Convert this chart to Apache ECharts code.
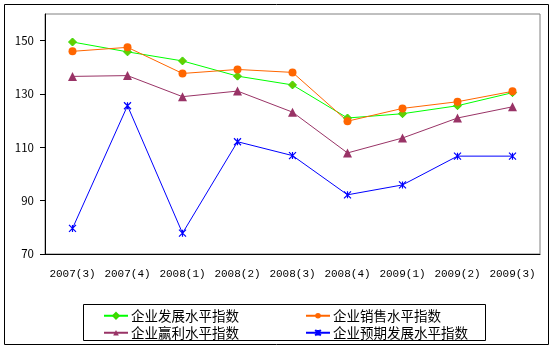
<!DOCTYPE html>
<html>
<head>
<meta charset="utf-8">
<style>
  html, body { margin: 0; padding: 0; background: #fff; }
  #chart { width: 554px; height: 350px; }
</style>
<script src="https://cdn.jsdelivr.net/npm/echarts@6/dist/echarts.min.js"></script>
</head>
<body>
<div id="chart"></div>
<script>
// Quarterly enterprise index data
const categories = ['2007(3)', '2007(4)', '2008(1)', '2008(2)', '2008(3)', '2008(4)', '2009(1)', '2009(2)', '2009(3)'];
const developIndex  = [149.5, 145.8, 142.4, 136.7, 133.4, 121.0, 122.6, 125.6, 130.5];
const salesIndex    = [146.0, 147.5, 137.7, 139.2, 138.1, 119.8, 124.6, 127.1, 131.0];
const profitIndex   = [136.6, 136.9, 129.0, 131.1, 123.2, 107.9, 113.5, 121.0, 125.2];
const expectIndex   = [79.6, 125.6, 77.8, 112.1, 106.9, 92.2, 95.9, 106.7, 106.7];
const yTickValues   = [70, 90, 110, 130, 150];

const seriesNames = ['企业发展水平指数', '企业销售水平指数', '企业赢利水平指数', '企业预期发展水平指数'];

const FONT = '"Noto Sans CJK SC", "DejaVu Sans", sans-serif';
const MONO = '"Liberation Mono", "DejaVu Sans Mono", monospace';
const asterisk = 'path://M0,0L10,10M10,0L0,10M5,0L5,10';

const chart = echarts.init(document.getElementById('chart'));

const legendCommon = {
  left: 103, padding: 0,
  itemWidth: 24, itemHeight: 7, itemGap: 66,
  textStyle: { fontSize: 13.5, color: '#000', fontFamily: FONT, padding: [0, 0, 0, -2] },
  z: 5
};

chart.setOption({
  animation: false,
  backgroundColor: '#fff',
  textStyle: { fontFamily: FONT },
  graphic: [
    { type: 'rect', shape: { x: 4.5, y: 4.5, width: 544, height: 340 },
      style: { fill: 'none', stroke: '#000', lineWidth: 1 }, z: 0, silent: true },
    { type: 'rect', shape: { x: 83.5, y: 304.5, width: 402, height: 36 },
      style: { fill: '#fff', stroke: '#000', lineWidth: 1 }, z: 1, silent: true }
  ],
  grid: {
    left: 45, top: 14, right: 14, bottom: 96,
    show: true, borderColor: '#808080', borderWidth: 1, backgroundColor: 'transparent'
  },
  legend: [
    Object.assign({ data: [seriesNames[0], seriesNames[1]], top: 309 }, legendCommon),
    Object.assign({ data: [seriesNames[2], seriesNames[3]], top: 326 }, legendCommon)
  ],
  xAxis: {
    type: 'category',
    data: categories,
    boundaryGap: true,
    axisLine: { lineStyle: { color: '#000', width: 1 } },
    axisTick: { inside: true, length: 4, lineStyle: { color: '#000' } },
    axisLabel: { color: '#000', fontSize: 11, margin: 15, fontFamily: MONO, interval: 0 },
    splitLine: { show: false }
  },
  yAxis: {
    type: 'value',
    min: 70, max: 160, interval: 10,
    axisLine: { show: true, lineStyle: { color: '#000', width: 1 } },
    axisTick: { show: true, length: 5, customValues: yTickValues, lineStyle: { color: '#000' } },
    axisLabel: { color: '#000', fontSize: 11.5, margin: 11, fontFamily: FONT, customValues: yTickValues },
    splitLine: { show: false }
  },
  series: [
    {
      name: seriesNames[0], type: 'line', data: developIndex,
      symbol: 'diamond', symbolSize: 8,
      lineStyle: { color: '#00FF00', width: 1 },
      itemStyle: { color: '#66CC00', borderColor: '#33DD00', borderWidth: 1 }
    },
    {
      name: seriesNames[1], type: 'line', data: salesIndex,
      symbol: 'circle', symbolSize: 8,
      lineStyle: { color: '#FF6600', width: 1 },
      itemStyle: { color: '#FF6600', borderColor: '#FF6600', borderWidth: 0 }
    },
    {
      name: seriesNames[2], type: 'line', data: profitIndex,
      symbol: 'triangle', symbolSize: 9,
      lineStyle: { color: '#993366', width: 1 },
      itemStyle: { color: '#993366', borderColor: '#993366', borderWidth: 0 }
    },
    {
      name: seriesNames[3], type: 'line', data: expectIndex,
      symbol: asterisk, symbolSize: 7,
      lineStyle: { color: '#0000FF', width: 1 },
      itemStyle: { color: 'rgba(0,0,0,0)', borderColor: '#0000FF', borderWidth: 1.2 }
    }
  ]
});
</script>
</body>
</html>
